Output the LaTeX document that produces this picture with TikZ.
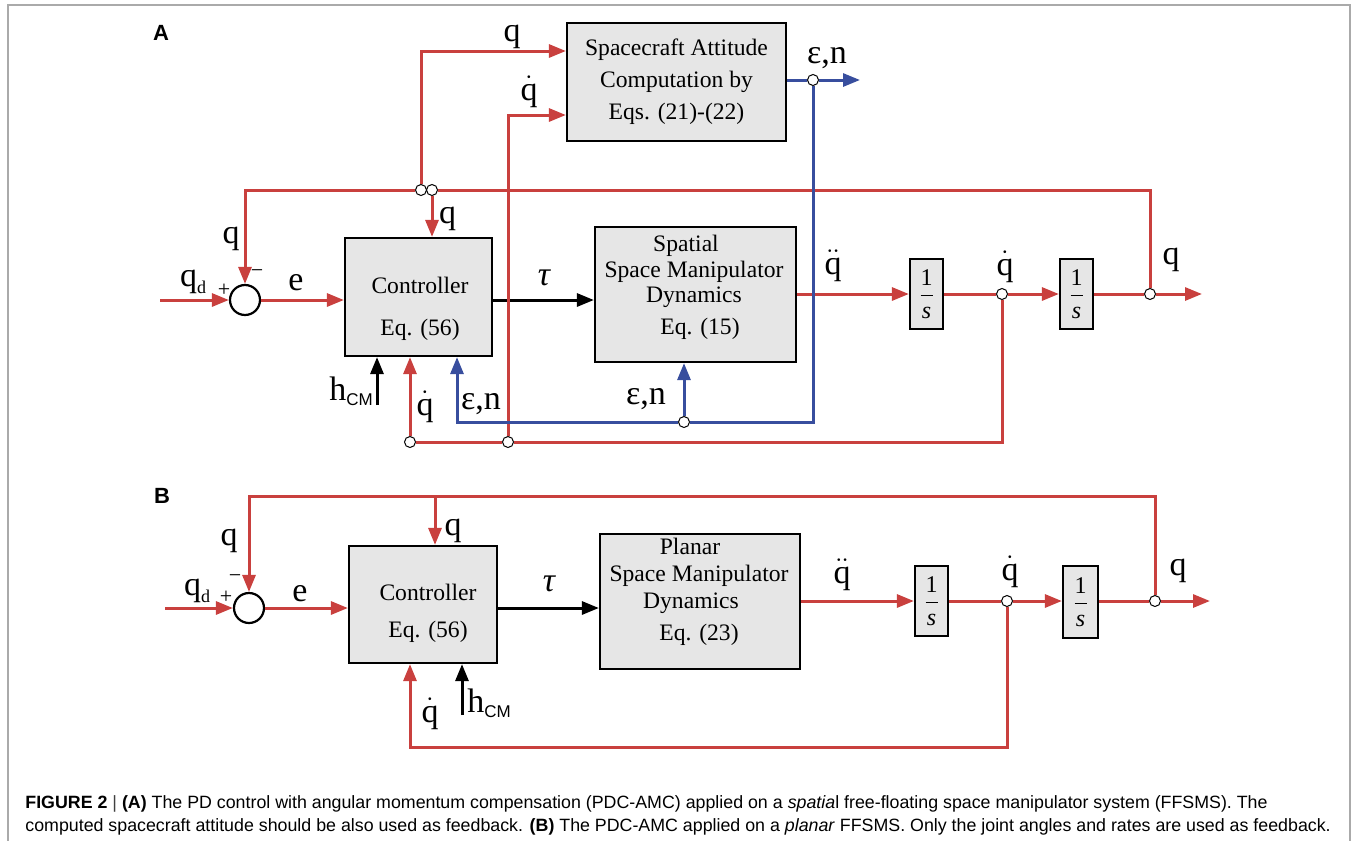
\documentclass[tikz,border=0pt]{standalone}
\usepackage{fontspec}
\setmainfont{Liberation Serif}
\setsansfont{Liberation Sans}
\usetikzlibrary{arrows.meta}
\definecolor{sigred}{RGB}{201,64,62}
\definecolor{sigblue}{RGB}{56,78,158}
\definecolor{blockfill}{RGB}{230,230,230}
\definecolor{framegray}{RGB}{170,170,170}
\tikzset{
  blk/.style={draw, line width=1.1pt, fill=blockfill, inner sep=0pt},
  blktext/.style={align=center, inner sep=0pt, font=\fontsize{11.8}{16}\selectfont},
  dyntext/.style={align=center, inner sep=0pt, font=\fontsize{11.8}{12.8}\selectfont},
  integ/.style={blk, minimum width=16.5pt, minimum height=35pt, font=\fontsize{12}{14}\selectfont},
  summer/.style={circle, draw, line width=1.1pt, fill=white, minimum size=15pt, inner sep=0pt},
  junc/.style={circle, draw, line width=0.5pt, fill=white, minimum size=5.5pt, inner sep=0pt},
  sig/.style={font=\fontsize{17}{17}\selectfont, inner sep=0pt, anchor=base},
  sgn/.style={font=\fontsize{11}{11}\selectfont, inner sep=0pt},
  panel/.style={font=\sffamily\bfseries\fontsize{11}{11}\selectfont, inner sep=0pt},
  capt/.style={align=left, inner sep=0pt, font=\sffamily\fontsize{8.9}{11.5}\selectfont},
  rline/.style={sigred, line width=1.5pt},
  bline/.style={sigblue, line width=1.5pt},
  kline/.style={black, line width=1.5pt},
  sigarr/.style={-{Triangle[length=8.5pt,width=6.5pt]}},
}
\newcommand{\qdot}{$\dot{\mathrm{q}}$}
\newcommand{\qddot}{$\ddot{\mathrm{q}}$}
\newcommand{\hcm}{h\raisebox{-2.5pt}{\sffamily\fontsize{8.5}{8.5}\selectfont CM}}
\newcommand{\qdes}{q\raisebox{-3.5pt}{\fontsize{9}{9}\selectfont d}}
\newcommand{\frc}{$\displaystyle\frac{\mbox{1}}{\mbox{\itshape s}}$}

\begin{document}
\begin{tikzpicture}[x=0.5pt,y=-0.5pt]
  \useasboundingbox (0,0) rectangle (1356,841);
  \draw[framegray, line width=1pt] (8,841) -- (8,5) -- (1350,5) -- (1350,841);

  % A
  \node[panel] (labA) at (161,33) {A};
  \node[blk, blktext, minimum width=109.5pt, minimum height=59pt] (sacA) at (676.5,82) {Spacecraft Attitude\\Computation by\\Eqs. (21)-(22)};
  \node[summer] (sumA) at (245,300) {};
  \node[blk, minimum width=73.5pt, minimum height=59pt] (ctlA) at (418.5,297) {};
  \node[blktext] (ctlAtxt) at (420,308.5) {Controller\\[5pt]Eq. (56)};
  \node[blk, minimum width=100.5pt, minimum height=67.5pt] (dynA) at (695.5,294.5) {};
  \node[dyntext] (dynAtxt) at (694,287.5) {\hspace*{-8pt}Spatial\\Space Manipulator\\Dynamics\\[3.2pt]\hspace*{6pt}Eq. (15)};
  \node[integ] (int1A) at (926.5,294) {\frc};
  \node[integ] (int2A) at (1076.5,294) {\frc};
  \node[junc] (jqdA) at (1002,294) {};
  \node[junc] (jqA) at (1150,294) {};
  \node[junc] (jq1A) at (421,190) {};
  \node[junc] (jq2A) at (432,190) {};
  \node[junc] (jfbA) at (508,442) {};
  \node[junc] (jfb2A) at (410,442) {};
  \node[junc] (jsacA) at (813,80) {};
  \node[junc] (jenA) at (684,422) {};
  \coordinate (qdinA) at (160,300);
  \coordinate (outA) at (1202,294);
  \coordinate (enoutA) at (860,80);
  \coordinate (hA) at (377,405);

  \draw[rline, sigarr] (qdinA) -- (sumA.west);
  \draw[rline, sigarr] (sumA.east) -- (sumA.east -| ctlA.west);
  \draw[kline, sigarr] (ctlA.east |- sumA) -- (sumA -| dynA.west);
  \draw[rline, sigarr] (dynA.east |- int1A) -- (int1A.west);
  \draw[rline] (int1A.east) -- (jqdA);
  \draw[rline, sigarr] (jqdA) -- (int2A.west);
  \draw[rline] (int2A.east) -- (jqA);
  \draw[rline, sigarr] (jqA) -- (outA);
  \draw[rline] (jqA) |- (jq2A);
  \draw[rline, sigarr] (jq1A) -| (sumA.north);
  \draw[rline, sigarr] (jq2A) -- (jq2A |- ctlA.north);
  \draw[rline, sigarr] (jq1A) |- ([yshift=15.5pt]sacA.west);
  \draw[rline, sigarr] (jfbA) |- ([yshift=-16.5pt]sacA.west);
  \draw[rline] (jqdA) |- (jfbA);
  \draw[rline] (jfbA) -- (jfb2A);
  \draw[rline, sigarr] (jfb2A) -- (jfb2A |- ctlA.south);
  \draw[bline] (sacA.east |- jsacA) -- (jsacA);
  \draw[bline, sigarr] (jsacA) -- (enoutA);
  \draw[bline] (jsacA) |- (jenA);
  \draw[bline, sigarr] (jenA) -| ([xshift=19.25pt]ctlA.south);
  \draw[bline, sigarr] (jenA) -- (jenA |- dynA.south);
  \draw[kline, sigarr] (hA) -- (hA |- ctlA.south);

  \node[sig] (lqA1) at (512,41) {q};
  \node[sig] (lqdA1) at (529,100) {\qdot};
  \node[sig] (lenA1) at (827,63) {ε,n};
  \node[sig] (lqA2) at (231,243) {q};
  \node[sig] (lqA3) at (447.5,223) {q};
  \node[sig] (lqdesA) at (193,286) {\qdes};
  \node[sgn] (plusA) at (224,290) {+};
  \node[sgn] (minusA) at (257,274) {−};
  \node[sig] (leA) at (296,290) {e};
  \node[sig] (ltauA) at (544,285) {\itshape τ};
  \node[sig] (lhA) at (351,400) {\hcm};
  \node[sig] (lqdA2) at (425,415) {\qdot};
  \node[sig] (lenA2) at (481,409) {ε,n};
  \node[sig] (lenA3) at (646,404) {ε,n};
  \node[sig] (lqddA) at (833,274) {\qddot};
  \node[sig] (lqdA3) at (1005,275) {\qdot};
  \node[sig] (lqA4) at (1171,264) {q};

  % B
  \node[panel] (labB) at (162,496) {B};
  \node[summer] (sumB) at (249,608) {};
  \node[blk, minimum width=74pt, minimum height=58.5pt] (ctlB) at (423,604.5) {};
  \node[blktext] (ctlBtxt) at (428,613) {Controller\\[2.5pt]Eq. (56)};
  \node[blk, minimum width=100pt, minimum height=67.5pt] (dynB) at (700,601.5) {};
  \node[dyntext, font=\fontsize{11.8}{13.5}\selectfont] (dynBtxt) at (699,592) {\hspace*{-9pt}Planar\\Space Manipulator\\\hspace*{-8pt}Dynamics\\[2.5pt]Eq. (23)};
  \node[integ] (int1B) at (931.5,601) {\frc};
  \node[integ, minimum width=17.5pt, minimum height=36pt] (int2B) at (1080.5,602) {\frc};
  \node[junc] (jqdB) at (1007,601) {};
  \node[junc] (jqB) at (1155,601) {};
  \coordinate (qdinB) at (165,608);
  \coordinate (outB) at (1210,601);
  \coordinate (cornerB) at (249,496);
  \coordinate (teeB) at (435,496);
  \coordinate (fbB) at (410,747);
  \coordinate (hB) at (462,715);

  \draw[rline, sigarr] (qdinB) -- (sumB.west);
  \draw[rline, sigarr] (sumB.east) -- (sumB.east -| ctlB.west);
  \draw[kline, sigarr] (ctlB.east |- sumB) -- (sumB -| dynB.west);
  \draw[rline, sigarr] (dynB.east |- int1B) -- (int1B.west);
  \draw[rline] (int1B.east) -- (jqdB);
  \draw[rline, sigarr] (jqdB) -- (int2B.west |- jqdB);
  \draw[rline] (int2B.east |- jqB) -- (jqB);
  \draw[rline, sigarr] (jqB) -- (outB);
  \draw[rline, sigarr] (jqB) |- (cornerB) -- (sumB.north);
  \draw[rline, sigarr] (teeB) -- (teeB |- ctlB.north);
  \draw[rline, sigarr] (jqdB) |- (fbB) -- (fbB |- ctlB.south);
  \draw[kline, sigarr] (hB) -- (hB |- ctlB.south);

  \node[sig] (lqB1) at (229,545) {q};
  \node[sig] (lqB2) at (453,535) {q};
  \node[sig] (lqdesB) at (197,595) {\qdes};
  \node[sgn] (plusB) at (226,597) {+};
  \node[sgn] (minusB) at (235,579) {−};
  \node[sig] (leB) at (300,601) {e};
  \node[sig] (ltauB) at (549,591) {\itshape τ};
  \node[sig] (lhB) at (489,712) {\hcm};
  \node[sig] (lqdB1) at (430,722) {\qdot};
  \node[sig] (lqddB) at (842,583) {\qddot};
  \node[sig] (lqdB2) at (1010,580) {\qdot};
  \node[sig] (lqB3) at (1178,575) {q};

  \node[capt, anchor=north west] (caption) at (25,795) {\textbf{FIGURE 2} {\color{darkgray}|} \textbf{(A)} The PD control with angular momentum compensation (PDC-AMC) applied on a \textit{spatia}l free-floating space manipulator system (FFSMS). The\\computed spacecraft attitude should be also used as feedback. \textbf{(B)} The PDC-AMC applied on a \textit{planar} FFSMS. Only the joint angles and rates are used as feedback.};
\end{tikzpicture}
\end{document}
